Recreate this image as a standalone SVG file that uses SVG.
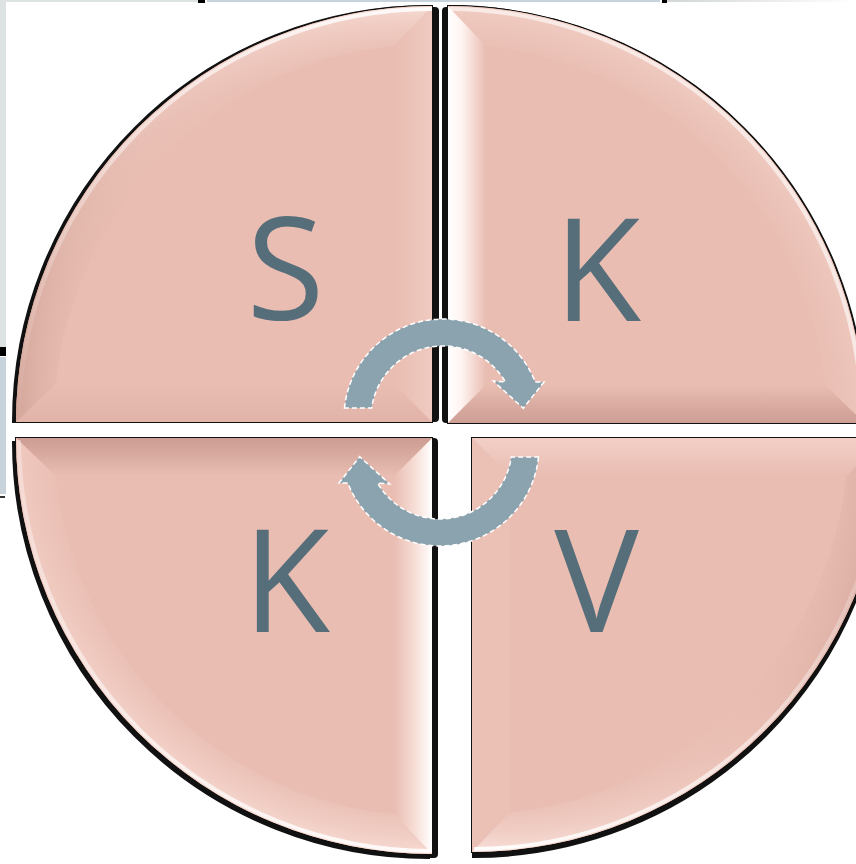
<svg xmlns="http://www.w3.org/2000/svg" width="856" height="864" viewBox="0 0 856 864">
<style>
.edge{fill:#111;stroke:#111;stroke-width:2}
.face{fill:#E9BDB2}
.letter{font-family:"Open Sans","DejaVu Sans",sans-serif;font-size:142px;fill:#566E7A}
.arrow{fill:#8BA3AE;stroke:#FFFFFF;stroke-width:1.5;stroke-dasharray:5 3}
.rim{fill:none;stroke-width:4}
</style>
<defs>
<linearGradient id="tlArc" gradientUnits="userSpaceOnUse" x1="432" y1="6" x2="16" y2="422"><stop offset="0" stop-color="#F6DAD2"/><stop offset="0.45" stop-color="#EBC3B9"/><stop offset="1" stop-color="#D3A599"/></linearGradient>
<linearGradient id="tlRim" gradientUnits="userSpaceOnUse" x1="432" y1="6" x2="16" y2="422"><stop offset="0" stop-color="#FFFFFF" stop-opacity="0.9"/><stop offset="0.6" stop-color="#FFFFFF" stop-opacity="0.4"/><stop offset="1" stop-color="#FFFFFF" stop-opacity="0"/></linearGradient>
<linearGradient id="tlRight" gradientUnits="userSpaceOnUse" x1="394" y1="0" x2="432" y2="0"><stop offset="0" stop-color="#E9BDB2"/><stop offset="1" stop-color="#EFCAC0"/></linearGradient>
<linearGradient id="tlBottom" gradientUnits="userSpaceOnUse" x1="0" y1="384" x2="0" y2="422"><stop offset="0" stop-color="#E9BDB2"/><stop offset="1" stop-color="#E2B4A9"/></linearGradient>
<linearGradient id="trLeft" gradientUnits="userSpaceOnUse" x1="448" y1="0" x2="486" y2="0"><stop offset="0" stop-color="#FFFFFF"/><stop offset="0.35" stop-color="#FFF4F1"/><stop offset="1" stop-color="#E9BDB2"/></linearGradient>
<linearGradient id="trArc" gradientUnits="userSpaceOnUse" x1="448" y1="6" x2="865" y2="423"><stop offset="0" stop-color="#F0CCC2"/><stop offset="1" stop-color="#EDC6BC"/></linearGradient>
<linearGradient id="trRim" gradientUnits="userSpaceOnUse" x1="448" y1="6" x2="865" y2="423"><stop offset="0" stop-color="#FFFFFF" stop-opacity="0.6"/><stop offset="1" stop-color="#FFFFFF" stop-opacity="0.6"/></linearGradient>
<linearGradient id="trBottom" gradientUnits="userSpaceOnUse" x1="0" y1="385" x2="0" y2="423"><stop offset="0" stop-color="#E9BDB2"/><stop offset="1" stop-color="#CD9E93"/></linearGradient>
<linearGradient id="blRight" gradientUnits="userSpaceOnUse" x1="394" y1="0" x2="432" y2="0"><stop offset="0" stop-color="#E9BDB2"/><stop offset="0.6" stop-color="#F8E1DA"/><stop offset="1" stop-color="#FFFFFF"/></linearGradient>
<linearGradient id="blTop" gradientUnits="userSpaceOnUse" x1="0" y1="438" x2="0" y2="476"><stop offset="0" stop-color="#CC9D92"/><stop offset="1" stop-color="#E9BDB2"/></linearGradient>
<linearGradient id="blArc" gradientUnits="userSpaceOnUse" x1="16" y1="438" x2="432" y2="854"><stop offset="0" stop-color="#EFC8BE"/><stop offset="1" stop-color="#F6DAD2"/></linearGradient>
<linearGradient id="blRim" gradientUnits="userSpaceOnUse" x1="16" y1="438" x2="432" y2="854"><stop offset="0" stop-color="#FFFFFF" stop-opacity="0.3"/><stop offset="1" stop-color="#FFFFFF" stop-opacity="0.9"/></linearGradient>
<linearGradient id="brTop" gradientUnits="userSpaceOnUse" x1="0" y1="438" x2="0" y2="476"><stop offset="0" stop-color="#F2D0C7"/><stop offset="1" stop-color="#E9BDB2"/></linearGradient>
<linearGradient id="brArc" gradientUnits="userSpaceOnUse" x1="886" y1="438" x2="472" y2="852"><stop offset="0" stop-color="#D2A499"/><stop offset="0.5" stop-color="#E9BDB2"/><stop offset="1" stop-color="#F8E0D9"/></linearGradient>
<linearGradient id="brRim" gradientUnits="userSpaceOnUse" x1="886" y1="438" x2="472" y2="852"><stop offset="0" stop-color="#FFFFFF" stop-opacity="0"/><stop offset="1" stop-color="#FFFFFF" stop-opacity="0.95"/></linearGradient>
<linearGradient id="topStrip" x1="0" y1="0" x2="1" y2="0"><stop offset="0" stop-color="#D2D6D6"/><stop offset="1" stop-color="#FFFFFF"/></linearGradient>
<radialGradient id="gTL" gradientUnits="userSpaceOnUse" cx="432" cy="422" r="416"><stop offset="0.88" stop-color="#000"/><stop offset="0.96" stop-color="#999"/><stop offset="1" stop-color="#FFF"/></radialGradient>
<radialGradient id="gTR" gradientUnits="userSpaceOnUse" cx="448" cy="423" r="417"><stop offset="0.88" stop-color="#000"/><stop offset="0.96" stop-color="#999"/><stop offset="1" stop-color="#FFF"/></radialGradient>
<radialGradient id="gBL" gradientUnits="userSpaceOnUse" cx="432" cy="438" r="416"><stop offset="0.88" stop-color="#000"/><stop offset="0.96" stop-color="#999"/><stop offset="1" stop-color="#FFF"/></radialGradient>
<radialGradient id="gBR" gradientUnits="userSpaceOnUse" cx="472" cy="438" r="414"><stop offset="0.88" stop-color="#000"/><stop offset="0.96" stop-color="#999"/><stop offset="1" stop-color="#FFF"/></radialGradient>
<mask id="mTL" maskUnits="userSpaceOnUse" x="0" y="0" width="856" height="864"><rect width="856" height="864" fill="url(#gTL)"/></mask>
<mask id="mTR" maskUnits="userSpaceOnUse" x="0" y="0" width="856" height="864"><rect width="856" height="864" fill="url(#gTR)"/></mask>
<mask id="mBL" maskUnits="userSpaceOnUse" x="0" y="0" width="856" height="864"><rect width="856" height="864" fill="url(#gBL)"/></mask>
<mask id="mBR" maskUnits="userSpaceOnUse" x="0" y="0" width="856" height="864"><rect width="856" height="864" fill="url(#gBR)"/></mask>
</defs>
<rect x="0" y="0" width="856" height="864" fill="#FFFFFF"/>
<g id="frame">
<rect x="0" y="0" width="6" height="347" fill="#DDE3E3"/>
<rect x="0" y="347" width="6" height="9" fill="#000000"/>
<rect x="0" y="357" width="6" height="137" fill="#C8D2DA"/>
<rect x="0" y="496" width="5" height="2" fill="#333333"/>
<rect x="0" y="0" width="198" height="2" fill="#DDE3E3"/>
<rect x="198" y="0" width="7" height="3" fill="#000000"/>
<rect x="207" y="0" width="453" height="2" fill="#C8D2DA"/>
<rect x="662" y="0" width="5" height="3" fill="#000000"/>
<rect x="667" y="0" width="189" height="2" fill="url(#topStrip)"/>
</g>
<g id="q-tl">
<path class="edge" transform="translate(-3,0)" d="M432,422 L16,422 A416,416 0 0 1 432,6 Z"/>
<rect x="428" y="7" width="11" height="415" rx="4" fill="#111"/>
<path class="edge" d="M432,422 L16,422 A416,416 0 0 1 432,6 Z"/>
<path class="face" d="M432,422 L16,422 A416,416 0 0 1 432,6 Z"/>
<path fill="url(#tlRight)" d="M432,422 L432,6 L394,45.9 L394,384 Z"/>
<path fill="url(#tlBottom)" d="M432,422 L16,422 L55.9,384 L394,384 Z"/>
<path fill="url(#tlArc)" mask="url(#mTL)" d="M16,422 A416,416 0 0 1 432,6 L394,45.9 A378,378 0 0 0 55.9,384 Z"/>
<path class="rim" stroke="url(#tlRim)" d="M19,420 A413,413 0 0 1 432,9"/>
<text class="letter" x="285.5" y="320" text-anchor="middle">S</text>
</g>
<g id="q-tr">
<path class="edge" transform="translate(1,0)" d="M448,423 L448,6 A417,417 0 0 1 865,423 Z"/>
<rect x="442" y="7" width="10" height="416" rx="4" fill="#111"/>
<path class="edge" d="M448,423 L448,6 A417,417 0 0 1 865,423 Z"/>
<path class="face" d="M448,423 L448,6 A417,417 0 0 1 865,423 Z"/>
<path fill="url(#trLeft)" d="M448,423 L448,6 L486,45.9 L486,385 Z"/>
<path fill="url(#trBottom)" d="M448,423 L865,423 L825.1,385 L486,385 Z"/>
<path fill="url(#trArc)" mask="url(#mTR)" d="M448,6 A417,417 0 0 1 865,423 L825.1,385 A379,379 0 0 0 486,45.9 Z"/>
<path class="rim" stroke="url(#trRim)" d="M450,9 A414,414 0 0 1 862,421"/>
<text class="letter" x="554" y="321">K</text>
</g>
<g id="q-bl">
<path class="edge" transform="translate(-3,4)" d="M432,438 L432,854 A416,416 0 0 1 16,438 Z"/>
<rect x="426" y="438" width="12" height="420" rx="4" fill="#111"/>
<path class="edge" d="M432,438 L432,854 A416,416 0 0 1 16,438 Z"/>
<path class="face" d="M432,438 L432,854 A416,416 0 0 1 16,438 Z"/>
<path fill="url(#blRight)" d="M432,438 L432,854 L394,814.1 L394,476 Z"/>
<path fill="url(#blTop)" d="M432,438 L16,438 L55.9,476 L394,476 Z"/>
<path fill="url(#blArc)" mask="url(#mBL)" d="M432,854 A416,416 0 0 1 16,438 L55.9,476 A378,378 0 0 0 394,814.1 Z"/>
<path class="rim" stroke="url(#blRim)" d="M430,851 A413,413 0 0 1 19,440"/>
<text class="letter" x="243" y="632">K</text>
</g>
<g id="q-br">
<path class="edge" transform="translate(1,5)" d="M472,438 L886,438 A414,414 0 0 1 472,852 Z"/>
<path class="edge" d="M472,438 L886,438 A414,414 0 0 1 472,852 Z"/>
<path class="face" d="M472,438 L886,438 A414,414 0 0 1 472,852 Z"/>
<path fill="url(#brTop)" d="M472,438 L886,438 L846.1,476 L510,476 Z"/>
<path fill="#EBC0B5" d="M472,438 L472,852 L510,812.1 L510,476 Z"/>
<path fill="url(#brArc)" mask="url(#mBR)" d="M886,438 A414,414 0 0 1 472,852 L510,812.1 A376,376 0 0 0 846.1,476 Z"/>
<path class="rim" stroke="url(#brRim)" d="M883,440 A411,411 0 0 1 474,849"/>
<text class="letter" x="596.5" y="632" text-anchor="middle">V</text>
</g>
<g id="connectors">
<path id="arrow-top" class="arrow" d="M344.5,408 A99,99 0 0 1 535.2,382 L544,382 L523.3,408.3 L493.3,381 L505.4,382 A72,72 0 0 0 371.7,408 Z"/>
<path id="arrow-bottom" class="arrow" transform="rotate(180 441.5 432.5)" d="M344.5,408 A99,99 0 0 1 535.2,382 L544,382 L523.3,408.3 L493.3,381 L505.4,382 A72,72 0 0 0 371.7,408 Z"/>
</g>
</svg>
